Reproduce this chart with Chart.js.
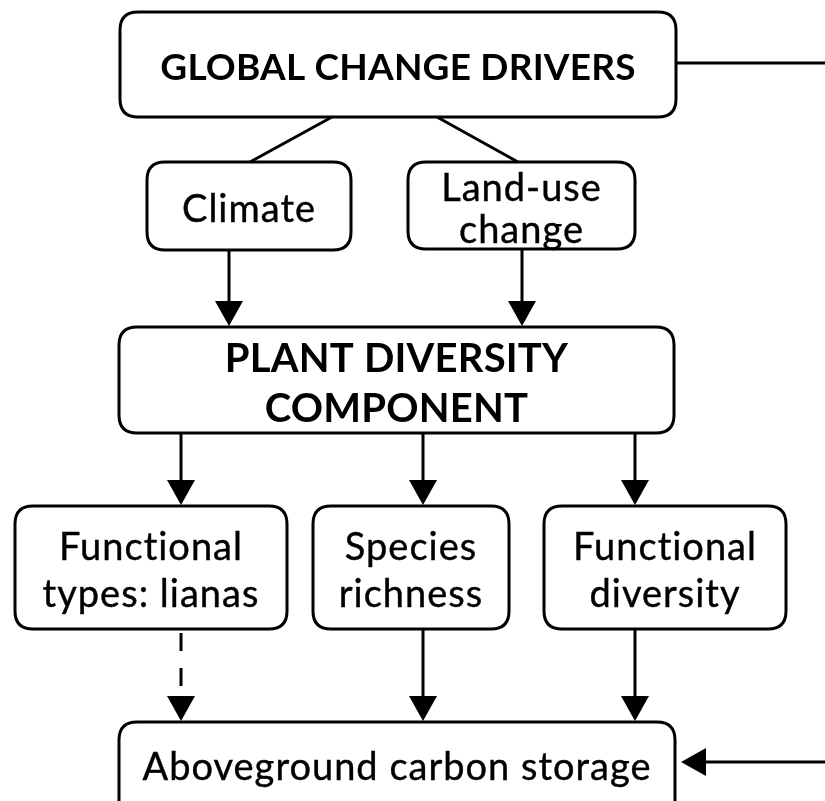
<!DOCTYPE html>
<html>
<head>
<meta charset="utf-8">
<script src="https://cdn.jsdelivr.net/npm/chart.js@4"></script>
<style>
  html, body { margin: 0; padding: 0; background: #fff; }
  canvas { display: block; }
</style>
</head>
<body>
<canvas id="flow" width="825" height="801"></canvas>
<script>
// nodes of the diagram (extent in the diagram's own coordinate space)
var nodeLabels = [
  ["GLOBAL CHANGE DRIVERS"],
  ["Climate"],
  ["Land-use", "change"],
  ["PLANT DIVERSITY", "COMPONENT"],
  ["Functional", "types: lianas"],
  ["Species", "richness"],
  ["Functional", "diversity"],
  ["Aboveground carbon storage"]
];
var nodeLeft   = [120, 147, 408, 119,  15, 313, 544, 119];
var nodeRight  = [676, 351, 635, 674, 287, 509, 786, 675];
var nodeTop    = [ 12, 162, 162, 327, 506, 506, 506, 722];
var nodeBottom = [117, 250, 249, 433, 629, 629, 629, 840];

// links between nodes: kind 0 = plain line, 1 = arrow, 2 = dashed arrow
var linkFrom   = [0, 0, 1, 2, 3, 3, 3, 4, 5, 6];
var linkTo     = [1, 2, 3, 3, 4, 5, 6, 7, 7, 7];
var linkFromX  = [332, 437, 229, 522, 181, 423, 635, 181, 423, 635];
var linkToX    = [250, 518, 229, 522, 181, 423, 635, 181, 423, 635];
var linkKind   = [0, 0, 1, 1, 1, 1, 1, 2, 1, 1];

// feedback path leaving the top node and returning to the bottom node
var feedbackY  = [63, 762];

// label styling per node: [weight, size, line gap]
var nodeStyle = [
  ["bold", 37, 0], ["normal", 38, 0], ["normal", 38, 42], ["bold", 40, 50],
  ["normal", 38, 47], ["normal", 38, 47], ["normal", 38, 47], ["normal", 38, 0]
];
var FONT = "Lato, 'Open Sans', sans-serif";

function roundRect(ctx, x0, y0, x1, y1, r) {
  ctx.beginPath();
  ctx.moveTo(x0 + r, y0);
  ctx.lineTo(x1 - r, y0);
  ctx.quadraticCurveTo(x1, y0, x1, y0 + r);
  ctx.lineTo(x1, y1 - r);
  ctx.quadraticCurveTo(x1, y1, x1 - r, y1);
  ctx.lineTo(x0 + r, y1);
  ctx.quadraticCurveTo(x0, y1, x0, y1 - r);
  ctx.lineTo(x0, y0 + r);
  ctx.quadraticCurveTo(x0, y0, x0 + r, y0);
  ctx.closePath();
  ctx.stroke();
}

function arrowHead(ctx, x, y, dx, dy) {
  // tip at (x,y), pointing along (dx,dy)
  var len = Math.sqrt(dx * dx + dy * dy), ux = dx / len, uy = dy / len;
  var h = 25, w = 14;
  ctx.beginPath();
  ctx.moveTo(x, y);
  ctx.lineTo(x - ux * h - uy * w, y - uy * h + ux * w);
  ctx.lineTo(x - ux * h + uy * w, y - uy * h - ux * w);
  ctx.closePath();
  ctx.fill();
}

var flowPlugin = {
  id: "flow",
  afterDatasetsDraw: function (chart) {
    var ctx = chart.ctx, sx = chart.scales.x, sy = chart.scales.y;
    var px = function (v) { return sx.getPixelForValue(v); };
    var py = function (v) { return sy.getPixelForValue(v); };
    ctx.save();
    ctx.strokeStyle = "#000";
    ctx.fillStyle = "#000";

    // boxes + labels
    nodeLabels.forEach(function (lines, i) {
      var x0 = px(nodeLeft[i]), x1 = px(nodeRight[i]);
      var y0 = py(nodeTop[i]), y1 = py(nodeBottom[i]);
      ctx.lineWidth = 3;
      roundRect(ctx, x0, y0, x1, y1, 18);
      var st = nodeStyle[i];
      ctx.font = st[0] + " " + st[1] + "px " + FONT;
      ctx.letterSpacing = st[0] === "bold" ? "0.2px" : "1px";
      ctx.textAlign = "center";
      ctx.textBaseline = "middle";
      var cx = (x0 + x1) / 2;
      var cy = (y0 + y1) / 2 + 4;
      if (i === nodeLabels.length - 1) cy = py(feedbackY[1]) + 6;
      ctx.lineWidth = 0.4;
      lines.forEach(function (t, k) {
        var ty = cy + (k - (lines.length - 1) / 2) * st[2];
        ctx.fillText(t, cx, ty);
        if (st[0] !== "bold") ctx.strokeText(t, cx, ty);
      });
      ctx.letterSpacing = "0px";
    });

    ctx.lineWidth = 3;
    // links
    linkFrom.forEach(function (f, i) {
      var t = linkTo[i];
      var xa = px(linkFromX[i]), ya = py(nodeBottom[f]);
      var xb = px(linkToX[i]), yb = py(nodeTop[t]);
      ctx.setLineDash(linkKind[i] === 2 ? [18, 17] : []);
      ctx.beginPath();
      ctx.moveTo(xa, linkKind[i] === 2 ? ya + 4 : ya);
      ctx.lineTo(xb, linkKind[i] === 0 ? yb : yb - 20);
      ctx.stroke();
      ctx.setLineDash([]);
      if (linkKind[i] > 0) arrowHead(ctx, xb, yb - 1, xb - xa, yb - ya);
    });

    // feedback: line out of the top box, arrow into the bottom box
    var right = sx.max;
    ctx.beginPath();
    ctx.moveTo(px(nodeRight[0]), py(feedbackY[0]));
    ctx.lineTo(px(right), py(feedbackY[0]));
    ctx.stroke();
    ctx.beginPath();
    ctx.moveTo(px(right), py(feedbackY[1]));
    ctx.lineTo(px(nodeRight[7]) + 22, py(feedbackY[1]));
    ctx.stroke();
    arrowHead(ctx, px(nodeRight[7]) + 6, py(feedbackY[1]), -1, 0);
    ctx.restore();
  }
};

new Chart(document.getElementById("flow").getContext("2d"), {
  type: "scatter",
  data: {
    datasets: [{
      data: nodeLabels.map(function (l, i) {
        return { x: (nodeLeft[i] + nodeRight[i]) / 2, y: (nodeTop[i] + nodeBottom[i]) / 2 };
      }),
      pointRadius: 0
    }]
  },
  options: {
    responsive: false,
    animation: false,
    layout: { padding: 0 },
    plugins: { legend: { display: false }, tooltip: { enabled: false } },
    scales: {
      x: { type: "linear", min: 0, max: 825, display: false },
      y: { type: "linear", min: 0, max: 801, reverse: true, display: false }
    }
  },
  plugins: [flowPlugin]
});
</script>
</body>
</html>
